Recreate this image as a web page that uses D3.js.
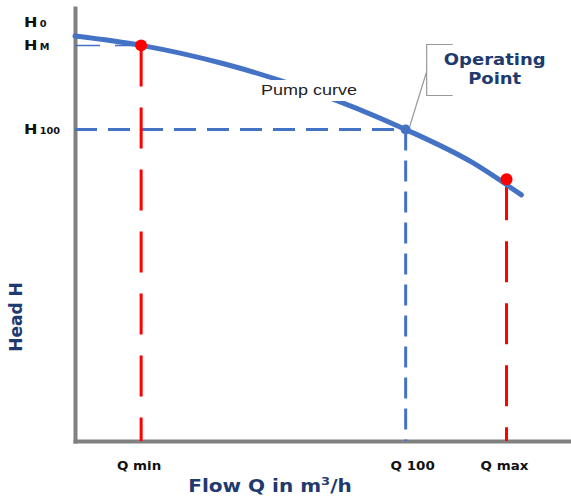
<!DOCTYPE html>
<html>
<head>
<meta charset="utf-8">
<script src="https://cdn.jsdelivr.net/npm/d3@7"></script>
<style>
  body { margin: 0; background: #fff; }
  svg { display: block; }
</style>
</head>
<body>
<div id="chart"></div>
<script>
// pump curve (flow Q, head H)
var curveQ = [0, 20, 45, 70, 100, 120, 135];
var curveH = [130, 127, 121.1, 112.9, 100, 89.5, 79];

// marked points on the curve: Q min, operating point (Q 100), Q max
var pointQ = [20, 100, 130.5];
var pointH = [127, 100, 84];
var pointKind = ["limit", "operating", "limit"];

// tick labels
var qTickValues = [20, 100, 130.5];
var qTickLabels = ["Q min", "Q 100", "Q max"];
var hTickValues = [134.5, 127, 100];
var hTickMain = ["H", "H", "H"];
var hTickSub = ["0", "M", "100"];

var width = 571, height = 497;
var navy = "#1f3a6e", blue = "#4472c4", red = "#ff0000", grey = "#808080";

var x = d3.scaleLinear().domain([0, 150]).range([75, 571]);
var y = d3.scaleLinear().domain([0, 139]).range([441, 8]);

var svg = d3.select("#chart").append("svg")
    .attr("width", width)
    .attr("height", height);

// stretched bold text like the original picture
function label(g, txt, tx, ty, size, weight, color, anchor, sx) {
  return g.append("text")
      .attr("transform", "translate(" + tx + "," + ty + ") scale(" + (sx || 1.2) + ",1)")
      .attr("text-anchor", anchor || "middle")
      .style("font-family", "DejaVu Sans, Verdana, sans-serif")
      .style("font-size", size + "px")
      .style("font-weight", weight)
      .style("fill", color)
      .text(txt);
}

// axes (domain lines only)
var xAxis = d3.axisBottom(x).tickValues([]).tickSize(0);
var yAxis = d3.axisLeft(y).tickValues([]).tickSize(0);

svg.append("g")
    .attr("class", "x axis")
    .attr("transform", "translate(0," + y(0) + ")")
    .call(xAxis);
svg.append("g")
    .attr("class", "y axis")
    .attr("transform", "translate(" + x(0) + ",0)")
    .call(yAxis);
svg.selectAll(".axis path")
    .attr("stroke", grey)
    .attr("stroke-width", 4)
    .attr("stroke-linecap", "square");

// Q tick labels
qTickValues.forEach(function(v, i) {
  label(svg, qTickLabels[i], x(v) + (i === 1 ? 7 : -2), 470, 12, "bold", "#111", "middle", 1.12);
});

// H tick labels (H with a small subscript)
hTickValues.forEach(function(v, i) {
  var t = svg.append("text")
      .attr("transform", "translate(24," + (y(v) + 5) + ") scale(1.15,1)")
      .style("font-family", "DejaVu Sans, Verdana, sans-serif")
      .style("font-weight", "bold")
      .style("fill", "#111");
  t.append("tspan").style("font-size", "14px").text(hTickMain[i]);
  t.append("tspan").attr("dx", 2).style("font-size", "8.5px").text(hTickSub[i]);
});

// axis titles
var flow = label(svg, "", 270, 492, 17, "bold", navy, "middle", 1.18);
flow.append("tspan").text("Flow Q in m");
flow.append("tspan").attr("dy", -7).style("font-size", "11px").text("3");
flow.append("tspan").attr("dy", 7).text("/h");

svg.append("text")
    .attr("transform", "translate(22,317) rotate(-90)")
    .attr("text-anchor", "middle")
    .style("font-family", "DejaVu Sans, Verdana, sans-serif")
    .style("font-size", "17px")
    .style("font-weight", "bold")
    .style("fill", navy)
    .text("Head H");

// reference lines
var op = pointKind.indexOf("operating");
svg.append("line")
    .attr("x1", x(0)).attr("x2", x(pointQ[op]))
    .attr("y1", y(pointH[op])).attr("y2", y(pointH[op]))
    .attr("stroke", blue).attr("stroke-width", 3)
    .attr("stroke-dasharray", "22,11");

// H M line from axis to Q min point
svg.append("line")
    .attr("x1", x(0)).attr("x2", x(pointQ[0]))
    .attr("y1", y(pointH[0])).attr("y2", y(pointH[0]))
    .attr("stroke", blue).attr("stroke-width", 1.5)
    .attr("stroke-dasharray", "25,15");

svg.selectAll(".drop")
    .data(pointQ)
    .enter()
    .append("line")
    .attr("class", "drop")
    .attr("x1", function(d) { return x(d); })
    .attr("x2", function(d) { return x(d); })
    .attr("y1", function(d, i) { return y(pointH[i]); })
    .attr("y2", y(0))
    .attr("stroke", function(d, i) { return pointKind[i] === "operating" ? blue : red; })
    .attr("stroke-width", 3)
    .attr("stroke-dasharray", function(d, i) { return pointKind[i] === "operating" ? "21,10" : "41,21"; });

// pump curve
var line = d3.line()
    .x(function(d) { return x(d[0]); })
    .y(function(d) { return y(d[1]); })
    .curve(d3.curveMonotoneX);

svg.append("path")
    .datum(d3.zip(curveQ, curveH))
    .attr("d", line)
    .attr("fill", "none")
    .attr("stroke", blue)
    .attr("stroke-width", 5)
    .attr("stroke-linecap", "round");

// curve label with white box
svg.append("rect")
    .attr("x", 262).attr("y", 80)
    .attr("width", 96).attr("height", 21)
    .attr("fill", "#fff");
svg.append("text")
    .attr("transform", "translate(309,95) scale(1.2,1)")
    .attr("text-anchor", "middle")
    .style("font-family", "Liberation Sans, Arial, sans-serif")
    .style("font-size", "15px")
    .style("fill", "#222")
    .text("Pump curve");

// points
svg.selectAll(".pt")
    .data(pointQ)
    .enter()
    .append("circle")
    .attr("class", "pt")
    .attr("cx", function(d) { return x(d); })
    .attr("cy", function(d, i) { return y(pointH[i]); })
    .attr("r", function(d, i) { return pointKind[i] === "operating" ? 5 : 6; })
    .attr("fill", function(d, i) { return pointKind[i] === "operating" ? blue : red; });

// callout for operating point
var ox = x(pointQ[op]), oy = y(pointH[op]);
svg.append("path")
    .attr("d", "M" + (ox + 47) + "," + (oy - 85) + "H" + (ox + 21) + "V" + (oy - 34) + "H" + (ox + 47))
    .attr("fill", "none")
    .attr("stroke", "#999")
    .attr("stroke-width", 1.2);
svg.append("line")
    .attr("x1", ox + 21).attr("y1", oy - 58)
    .attr("x2", ox + 4).attr("y2", oy - 3)
    .attr("stroke", "#999")
    .attr("stroke-width", 1.2);

label(svg, "Operating", ox + 89, oy - 64, 15, "bold", navy, "middle", 1.2);
label(svg, "Point", ox + 89, oy - 45, 15, "bold", navy, "middle", 1.2);
</script>
</body>
</html>
